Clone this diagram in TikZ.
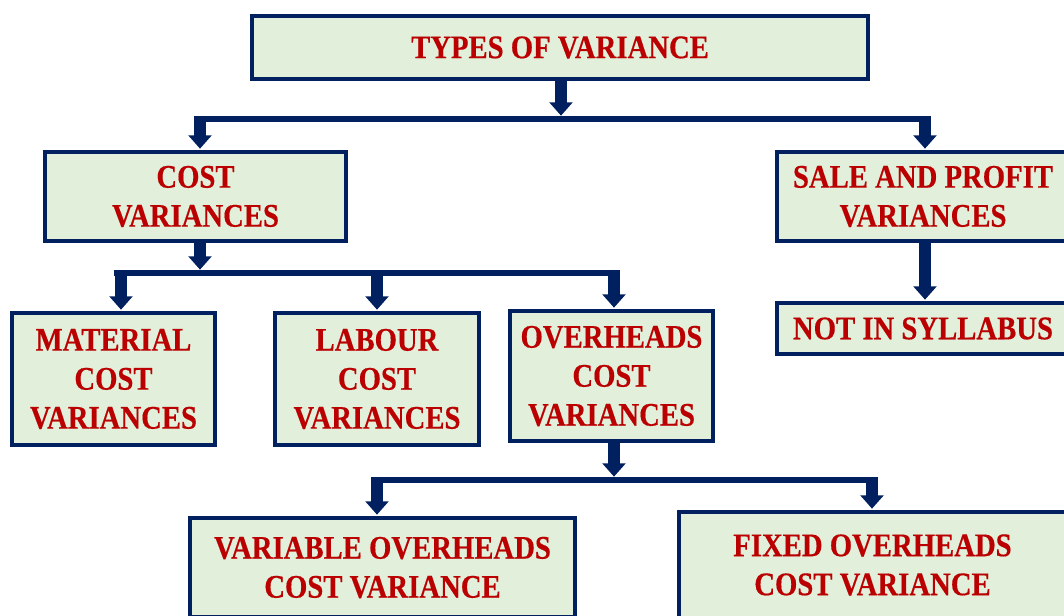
\documentclass[tikz,border=0pt]{standalone}
\usepackage{fontspec}
\setmainfont{Liberation Serif}[FakeStretch=0.87,FakeBold=0.4]
\usetikzlibrary{arrows.meta}
\definecolor{navy}{RGB}{0,32,96}
\definecolor{boxfill}{HTML}{E2EFDA}
\definecolor{txt}{HTML}{BA0000}
\begin{document}
\begin{tikzpicture}[x=0.75pt,y=-0.75pt,
  box/.style={draw=navy,line width=3pt,fill=boxfill,inner sep=0pt,align=center,
    text=txt,font=\fontsize{24.75}{29.25}\selectfont\bfseries},
  hline/.style={navy,line width=4.5pt},
  drop/.style={navy,line width=9pt,-{Triangle[width=17pt,length=10pt]},shorten >=1pt}]
\useasboundingbox (0,0) rectangle (1064,615);
\fill[white] (0,0) rectangle (1064,615);

% boxes
\node[box,minimum width=616*0.75pt,minimum height=63*0.75pt] (top) at (560,47.5) {TYPES OF VARIANCE};
\node[box,minimum width=301*0.75pt,minimum height=89*0.75pt] (cost) at (195.5,196.5) {COST\\VARIANCES};
\node[box,minimum width=292*0.75pt,minimum height=89*0.75pt] (sale) at (923,196.5) {SALE AND PROFIT\\VARIANCES};
\node[box,minimum width=292*0.75pt,minimum height=51*0.75pt] (nis) at (923,328.5) {NOT IN SYLLABUS};
\node[box,minimum width=203*0.75pt,minimum height=132*0.75pt] (mat) at (113.5,379) {MATERIAL\\COST\\VARIANCES};
\node[box,minimum width=204*0.75pt,minimum height=132*0.75pt] (lab) at (377,379) {LABOUR\\COST\\VARIANCES};
\node[box,minimum width=203*0.75pt,minimum height=130*0.75pt] (ovh) at (611.5,376) {OVERHEADS\\COST\\VARIANCES};
\node[box,minimum width=385*0.75pt,minimum height=99*0.75pt] (var) at (382.5,567.5) {VARIABLE OVERHEADS\\COST VARIANCE};
\node[box,minimum width=387*0.75pt,minimum height=106*0.75pt] (fix) at (872.5,565) {FIXED OVERHEADS\\COST VARIANCE};

% level 1 connector
\coordinate (t1) at (561,117);
\draw[drop] (top.south -| t1) -- (t1);
\draw[hline] (194,119) coordinate (a1) -- (931,119) coordinate (b1);
\coordinate (d1) at (200,116.5);
\coordinate (d2) at (925,116.5);
\draw[drop] (d1) -- (d1 |- cost.north);
\draw[drop] (d2) -- (d2 |- sale.north);
\draw[drop] (sale.south -| d2) -- (d2 |- nis.north);

% level 2 connector
\coordinate (t2) at (200,271);
\draw[drop] (cost.south -| t2) -- (t2);
\draw[hline] (114,273) coordinate (a2) -- (620,273) coordinate (b2);
\coordinate (e1) at (121,270.5);
\coordinate (e2) at (377,270.5);
\coordinate (e3) at (614,270.5);
\draw[drop] (e1) -- (e1 |- mat.north);
\draw[drop] (e2) -- (e2 |- lab.north);
\draw[drop] (e3) -- (e3 |- ovh.north);

% level 3 connector
\coordinate (t3) at (614,478);
\draw[drop] (ovh.south -| t3) -- (t3);
\draw[hline] (371,480) coordinate (a3) -- (878,480) coordinate (b3);
\coordinate (f1) at (377,477.5);
\coordinate (f2) at (872,477.5);
\draw[drop] (f1) -- (f1 |- var.north);
\draw[drop] (f2) -- (f2 |- fix.north);
\end{tikzpicture}
\end{document}
